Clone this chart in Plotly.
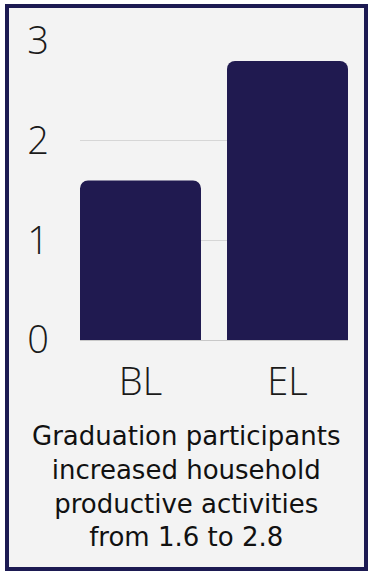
import plotly.graph_objects as go

# Average number of household productive activities
periods = ["BL", "EL"]
activities = [1.6, 2.8]
y_ticks = [0, 1, 2, 3]
caption = ["Graduation participants", "increased household",
           "productive activities", "from 1.6 to 2.8"]

W, H = 368, 571
ML, MR, MT, MB = 80, 20, 41, 231
PW, PH = W - ML - MR, H - MT - MB

def px_x(px):
    return (px - ML) / PW

def px_y(py):
    return (H - MB - py) / PH

navy = "#201a50"
bar_gap = 0.177
# let the outer bar edges sit on the plot-area edges
half_bar = (1 - bar_gap) / 2

fig = go.Figure(go.Bar(
    x=periods, y=activities,
    marker=dict(color=navy, line=dict(width=0)),
    hoverinfo="skip",
))

fig.update_layout(
    width=W, height=H, autosize=False,
    margin=dict(l=ML, r=MR, t=MT, b=MB, pad=0),
    paper_bgcolor="white",
    plot_bgcolor="rgba(0,0,0,0)",
    bargap=bar_gap,
    barcornerradius=8,
    showlegend=False,
    xaxis=dict(
        range=[-half_bar, len(periods) - 1 + half_bar],
        showgrid=False, zeroline=False, showline=False, ticks="",
        tickfont=dict(family="Open Sans", size=38, color="#1a1a1a", weight=300),
        ticklabelstandoff=16,
        fixedrange=True,
    ),
    yaxis=dict(
        range=[0, 3], tickvals=y_ticks,
        showgrid=True, gridcolor="#d6d6d6", gridwidth=1,
        zeroline=True, zerolinecolor="#c8c8c8", zerolinewidth=1,
        showline=False, ticks="",
        tickfont=dict(family="Open Sans", size=38, color="#1a1a1a", weight=300),
        ticklabelstandoff=30,
        fixedrange=True,
    ),
    shapes=[dict(
        type="rect", xref="paper", yref="paper", layer="below",
        x0=px_x(7), x1=px_x(366), y0=px_y(569), y1=px_y(6),
        fillcolor="#f3f3f3", line=dict(color="#1c1a52", width=4),
    )],
    annotations=[dict(
        xref="paper", yref="paper",
        x=px_x(186), y=px_y(486), xanchor="center", yanchor="middle",
        text="<br>".join(caption), showarrow=False, align="center",
        font=dict(family="DejaVu Sans", size=26, color="#111111"),
    )],
)

fig.write_html("out.html", config={"displayModeBar": False})
